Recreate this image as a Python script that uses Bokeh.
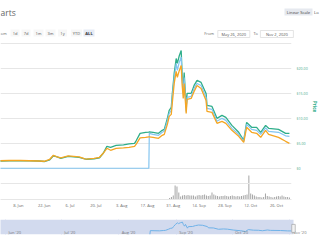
import pandas as pd
from bokeh.plotting import figure
from bokeh.layouts import column
from bokeh.models import (Range1d, FixedTicker, CustomJSTickFormatter, Span,
                          BoxAnnotation, ColumnDataSource)
from bokeh.core.properties import value
from bokeh.embed import file_html
from bokeh.resources import INLINE

# ---------------- data ----------------
dates = [
    "2020-05-26", "2020-05-29", "2020-06-03", "2020-06-09", "2020-06-14", "2020-06-19",
    "2020-06-22", "2020-06-25", "2020-06-27", "2020-06-29", "2020-07-01", "2020-07-03",
    "2020-07-05", "2020-07-08", "2020-07-11", "2020-07-14", "2020-07-15", "2020-07-19",
    "2020-07-22", "2020-07-24", "2020-07-26", "2020-07-28", "2020-07-31", "2020-08-04",
    "2020-08-07", "2020-08-10", "2020-08-11", "2020-08-13", "2020-08-16", "2020-08-17 18:00",
    "2020-08-18", "2020-08-20", "2020-08-23", "2020-08-25", "2020-08-26 03:00", "2020-08-27 19:00",
    "2020-08-28 19:00", "2020-08-29 22:00", "2020-08-30 12:00", "2020-08-31 12:00", "2020-09-01 14:00",
    "2020-09-02 05:00", "2020-09-03 05:00", "2020-09-04 07:00", "2020-09-04 19:00", "2020-09-05 10:00",
    "2020-09-05 22:00", "2020-09-07 00:00", "2020-09-07 12:00", "2020-09-09 17:00", "2020-09-11 07:00",
    "2020-09-12 22:00", "2020-09-15 02:00", "2020-09-17 19:00", "2020-09-18 07:00", "2020-09-21",
    "2020-09-23 17:00", "2020-09-26 10:00", "2020-09-28 12:00", "2020-10-01 19:00", "2020-10-05 12:00",
    "2020-10-08 05:00", "2020-10-09 19:00", "2020-10-12 12:00", "2020-10-15 05:00", "2020-10-17 10:00",
    "2020-10-20 02:00", "2020-10-21 17:00", "2020-10-27 02:00", "2020-10-30 22:00", "2020-11-02",
]
price_green = [
    1.45, 1.45, 1.5, 1.5, 1.5, 1.45,
    1.35, 1.7, 2.5, 2.3, 2.0, 2.2,
    2.4, 2.3, 2.2, 1.9, 1.8, 1.9,
    2.1, 3.0, 4.4, 4.2, 4.6, 4.7,
    4.9, 5.0, 5.6, 7.0, 7.2, 7.25,
    7.3, 7.2, 7.0, 7.6, 7.8, 10.0,
    11.6, 12.2, 15.0, 19.0, 22.0,
    21.0, 22.5, 23.6, 19.0, 16.0,
    19.2, 12.2, 15.0, 15.0, 16.6,
    17.6, 17.2, 15.0, 12.6, 12.4,
    10.0, 10.6, 10.2, 8.6, 7.2,
    5.6, 9.2, 8.2, 8.2, 7.2,
    8.6, 8.0, 7.8, 7.0, 7.0,
]
price_orange = [
    1.5, 1.5, 1.55, 1.55, 1.5, 1.45,
    1.4, 1.8, 2.6, 2.3, 2.1, 2.3,
    2.5, 2.4, 2.3, 1.9, 1.85, 2.0,
    2.2, 3.0, 4.0, 3.6, 4.0, 4.1,
    4.2, 4.4, 4.9, 6.1, 6.2, 6.3,
    6.3, 6.2, 6.0, 6.6, 6.8, 8.8,
    10.4, 10.8, 13.2, 17.0, 19.4,
    18.2, 19.5, 20.6, 16.8, 14.0,
    17.0, 11.0, 13.8, 14.0, 15.4,
    16.6, 16.0, 13.6, 11.4, 11.2,
    9.0, 9.4, 9.0, 7.6, 6.4,
    5.2, 8.2, 7.2, 7.0, 6.2,
    7.6, 6.8, 6.2, 5.4, 5.0,
]
price_blue = [
    0, 0, 0, 0, 0, 0,
    0, 0, 0, 0, 0, 0,
    0, 0, 0, 0, 0, 0,
    0, 0, 0, 0, 0, 0,
    0, 0, 0, 0, 0, 0,
    7.0, 6.8, 6.6, 7.2, 7.4, 9.5,
    11.0, 11.6, 14.3, 18.0, 21.0,
    19.6, 21.2, 22.3, 18.0, 15.0,
    18.2, 11.4, 14.2, 14.4, 16.0,
    17.0, 16.6, 14.2, 12.0, 11.8,
    9.4, 10.0, 9.6, 8.0, 6.8,
    5.4, 8.8, 7.8, 7.6, 6.8,
    8.1, 7.4, 7.2, 6.5, 6.4,
]
vol_start = "2020-08-29"
volume = [  # millions USD, daily from vol_start
    4.7, 7.8, 12.5,
    43.8, 40.6, 21.9, 9.4, 12.5, 14.1, 12.5, 14.1, 12.5, 12.5,
    12.5, 9.4, 12.5, 14.1, 12.5, 14.1, 15.6, 12.5, 10.9, 12.5,
    21.9, 15.6, 12.5, 10.9, 9.4, 10.9, 10.9, 12.5, 10.9, 9.4,
    10.9, 12.5, 10.9, 9.4, 10.9, 9.4, 10.9, 12.5, 14.1, 15.6,
    75.0, 18.8, 15.6, 12.5, 9.4, 7.8, 7.8, 6.3, 7.8, 18.8,
    10.9, 9.4, 7.8, 6.3, 7.8, 9.4, 10.9, 9.4, 12.5, 9.4,
    7.8, 7.8, 6.3,
]
xtick_dates = ["2020-06-08", "2020-06-22", "2020-07-06", "2020-07-20", "2020-08-03",
               "2020-08-17", "2020-08-31", "2020-09-14", "2020-09-28", "2020-10-12", "2020-10-26"]
ytick_values = [0, 5, 10, 15, 20, 25]
ytick_labels = ["$0", "$5.00", "$10.00", "$15.00", "$20.00", ""]
nav_months = ["2020-06-01", "2020-07-01", "2020-08-01", "2020-09-01", "2020-10-01", "2020-11-01"]
nav_labels = ["Jun '20", "Jul '20", "Aug '20", "Sep '20", "Oct '20", "Nov '20"]
buttons = ["1d", "7d", "1m", "3m", "1y", "YTD", "ALL"]
date_from = "May 26, 2020"
date_to = "Nov 2, 2020"

# ---------------- helpers / styles ----------------
def ms(s):
    return (pd.Timestamp(s) - pd.Timestamp("1970-01-01")).total_seconds() * 1000.0

DAY = 86400000.0
GREEN = "#2fae8a"
ORANGE = "#f5a623"
BLUE = "#84c5f0"
FONT = value("Open Sans")

x_dt = [ms(d) for d in dates]
vol_x = [ms(vol_start) + i * DAY for i in range(len(volume))]
view_start = ms("2020-05-29 07:00")
view_end = ms("2020-11-03 03:00")

# ---------------- header (visible fragments of the cropped toolbar) ----------------
h = figure(width=320, height=40, x_range=Range1d(0, 320), y_range=Range1d(40, 0),
           output_backend="svg", toolbar_location=None, min_border=0,
           min_border_left=0, min_border_right=0, min_border_top=0, min_border_bottom=0,
           x_axis_location=None, y_axis_location=None, frame_align=False)
h.grid.visible = False
h.outline_line_color = None
h.text(x=[0], y=[11.5], text=["arts"], text_font=FONT, text_font_size="8.5px",
       text_color="#666666", text_baseline="middle")
h.text(x=[0], y=[32.5], text=["om"], text_font=FONT, text_font_size="4px",
       text_color="#666666", text_baseline="middle")
bx = [14.5, 25.5, 38, 50, 62, 76, 88.5]
bw = [9, 9, 10, 10, 9, 11, 11]
bfill = ["#f7f7f7"] * 6 + ["#e6ebf5"]
h.rect(x=bx, y=32.5, width=bw, height=7, fill_color=bfill, line_color=None)
h.text(x=bx[:6], y=32.5, text=buttons[:6], text_font=FONT, text_font_size="4px",
       text_color="#555555", text_align="center", text_baseline="middle")
h.text(x=[bx[6]], y=[32.5], text=[buttons[6]], text_font=FONT, text_font_size="4px",
       text_font_style="bold", text_color="#333333", text_align="center", text_baseline="middle")
h.rect(x=[298], y=[11.5], width=28, height=7, fill_color="#e6e9ef", line_color=None)
h.text(x=[298], y=[11.5], text=["Linear Scale"], text_font=FONT, text_font_size="4.2px",
       text_color="#444444", text_align="center", text_baseline="middle")
h.text(x=[313.5], y=[11.5], text=["Lo"], text_font=FONT, text_font_size="4.2px",
       text_color="#444444", text_baseline="middle")
h.text(x=[213.5], y=[33], text=["From"], text_font=FONT, text_font_size="4px",
       text_color="#666666", text_align="right", text_baseline="middle")
h.text(x=[257.5], y=[33], text=["To"], text_font=FONT, text_font_size="4px",
       text_color="#666666", text_align="right", text_baseline="middle")
h.rect(x=[233.3, 276.4], y=[33.5, 33.5], width=[32, 33], height=7,
       fill_color="white", line_color="#d9d9d9", line_width=0.7)
h.text(x=[233.3, 276.4], y=[33.5, 33.5], text=[date_from, date_to], text_font=FONT,
       text_font_size="4px", text_color="#555555", text_align="center", text_baseline="middle")

# ---------------- price pane ----------------
p = figure(width=320, height=130, x_range=Range1d(view_start, view_end),
           y_range=Range1d(-0.45, 25.2), output_backend="svg", toolbar_location=None,
           y_axis_location="right", x_axis_location=None,
           min_border_left=0, min_border_right=27, min_border_top=2, min_border_bottom=0)
p.outline_line_color = None
p.xgrid.visible = False
p.ygrid.ticker = FixedTicker(ticks=ytick_values)
p.ygrid.grid_line_color = "#e6e6e6"
p.ygrid.grid_line_width = 1.2

ya = p.yaxis[0]
ya.ticker = FixedTicker(ticks=ytick_values)
ya.major_label_overrides = {v: l for v, l in zip(ytick_values, ytick_labels)}
ya.axis_line_color = None
ya.major_tick_line_color = None
ya.minor_tick_line_color = None
ya.major_tick_out = 0
ya.major_tick_in = 0
ya.minor_tick_out = 0
ya.minor_tick_in = 0
ya.major_label_standoff = 5
ya.major_label_text_font = "Open Sans"
ya.major_label_text_font_size = "3.6px"
ya.major_label_text_color = "#4aa88a"
ya.axis_label = "Price"
ya.axis_label_standoff = 1
ya.axis_label_text_font = "Open Sans"
ya.axis_label_text_font_size = "4.6px"
ya.axis_label_text_font_style = "bold"
ya.axis_label_text_color = GREEN

src = ColumnDataSource(dict(x=x_dt, g=price_green, o=price_orange, b=price_blue))
p.line("x", "g", source=src, line_color=GREEN, line_width=1.3)
p.line("x", "b", source=src, line_color=BLUE, line_width=1.2)
p.line("x", "o", source=src, line_color=ORANGE, line_width=1.3)

# ---------------- volume pane ----------------
v = figure(width=320, height=47, x_range=p.x_range, y_range=Range1d(0, 90.6),
           output_backend="svg", toolbar_location=None, y_axis_location=None,
           min_border_left=0, min_border_right=27, min_border_top=0, min_border_bottom=18)
v.outline_line_color = None
v.grid.visible = False
v.add_layout(Span(location=50, dimension="width", line_color="#e6e6e6", line_width=1.2))
v.vbar(x=vol_x, top=volume, width=DAY * 0.55, fill_color="#a6a6a6", line_color=None)

xa = v.xaxis[0]
xa.ticker = FixedTicker(ticks=[ms(d) for d in xtick_dates])
xa.formatter = CustomJSTickFormatter(code="""
const m = ["Jan","Feb","Mar","Apr","May","Jun","Jul","Aug","Sep","Oct","Nov","Dec"];
const d = new Date(tick);
return d.getUTCDate() + ". " + m[d.getUTCMonth()];
""")
xa.axis_line_color = "#e6e6e6"
xa.major_tick_line_color = None
xa.minor_tick_line_color = None
xa.major_tick_out = 0
xa.minor_tick_out = 0
xa.major_label_standoff = 3
xa.major_label_text_font = "Open Sans"
xa.major_label_text_font_size = "4px"
xa.major_label_text_color = "#666666"

# ---------------- navigator ----------------
nav_end = view_start + (view_end - view_start) * 320.0 / 293.0
n = figure(width=320, height=23, x_range=Range1d(view_start, nav_end), y_range=Range1d(0, 27),
           output_backend="svg", toolbar_location=None, min_border=0,
           min_border_left=0, min_border_right=0, min_border_top=2, min_border_bottom=6,
           x_axis_location=None, y_axis_location=None, frame_align=False)
n.outline_line_color = None
n.ygrid.visible = False
n.add_layout(BoxAnnotation(left=view_start - 10 * DAY, right=view_end,
                           fill_color="#d2daee", fill_alpha=1.0, line_color=None, level="underlay"))
n.xgrid.ticker = FixedTicker(ticks=[ms(d) for d in nav_months])
n.xgrid.grid_line_color = "#bfc8e2"
n.xgrid.grid_line_width = 1
first = next(i for i, val in enumerate(price_blue) if val > 0) - 1
n.line(x=x_dt[first:], y=price_blue[first:], line_color="#6fb2e8", line_width=1)
n.text(x=[ms(d) + 1.6 * DAY for d in nav_months], y=3.6, text=nav_labels, text_font=FONT,
       text_font_size="4px", text_color="#777777", text_baseline="middle")
n.rect(x=[view_end], y=[11], width=3.5, height=8, width_units="screen", height_units="screen",
       fill_color="#f2f2f2", line_color="#999999", line_width=0.6)

layout = column(h, p, v, n, spacing=0)
open("out.html", "w").write(file_html(layout, INLINE))
